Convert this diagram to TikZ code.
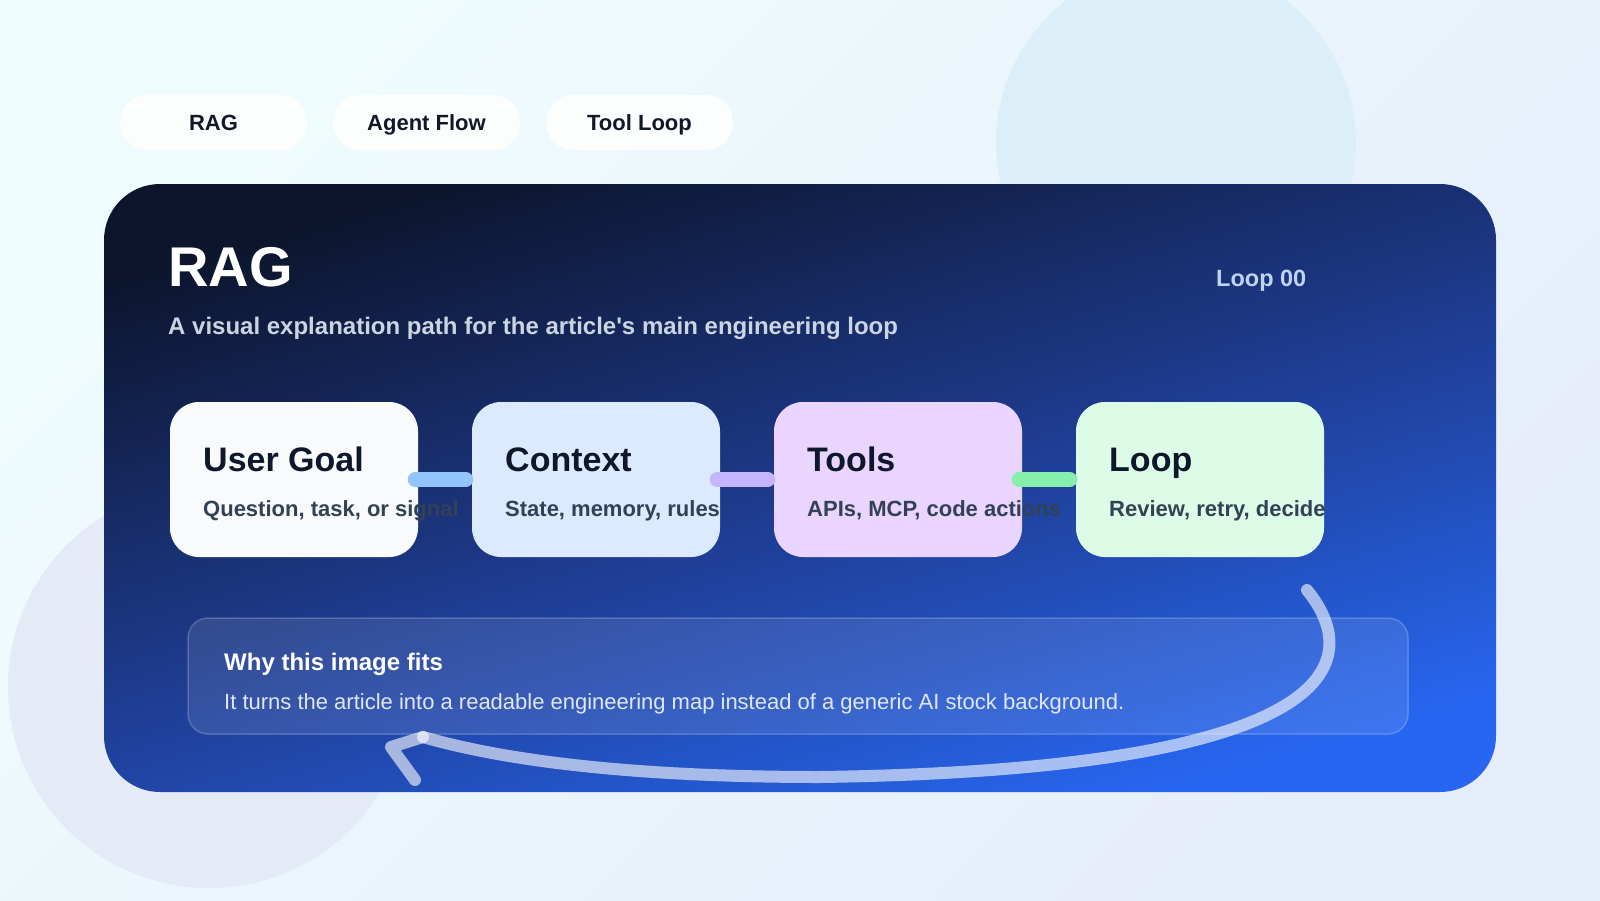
\documentclass[tikz,border=0pt]{standalone}
\usepackage{fontspec}
\setmainfont{Liberation Sans}

\definecolor{bgtop}{HTML}{EFFCFD}
\definecolor{bgbottom}{HTML}{E6EDFA}
\definecolor{bubbleblue}{HTML}{DCEEF8}
\definecolor{bubblegray}{HTML}{E4EAF6}
\definecolor{inkdark}{HTML}{111827}
\definecolor{navytop}{HTML}{0C152C}
\definecolor{navymid}{HTML}{1E3A8C}
\definecolor{bluebottom}{HTML}{2766F0}
\definecolor{subgray}{HTML}{CBD5E1}
\definecolor{looplabel}{HTML}{BFD3F5}
\definecolor{goalfill}{HTML}{F8FAFC}
\definecolor{ctxfill}{HTML}{DBEAFE}
\definecolor{toolfill}{HTML}{E9D5FF}
\definecolor{loopfill}{HTML}{DCFCE7}
\definecolor{cardink}{HTML}{0F172A}
\definecolor{subink}{HTML}{334155}
\definecolor{barblue}{HTML}{93C5FD}
\definecolor{barviolet}{HTML}{C4B5FD}
\definecolor{bargreen}{HTML}{86EFAC}
\definecolor{notetext}{HTML}{DFE7F3}

\newcommand{\pxfont}[1]{\fontsize{#1}{#1}\selectfont}

\begin{document}
\begin{tikzpicture}[x=1pt,y=-1pt,
    pill/.style={fill=white,fill opacity=0.85,text opacity=1,rounded corners=27pt,
      minimum width=187pt,minimum height=55pt,inner sep=0pt,text height=16pt,text depth=0pt,
      font=\pxfont{22}\bfseries,text=inkdark},
    card/.style={rounded corners=29pt,minimum width=248pt,minimum height=155pt,inner sep=0pt},
    cardtitle/.style={anchor=base west,inner sep=0pt,font=\pxfont{34}\bfseries,text=cardink},
    cardnote/.style={anchor=base west,inner sep=0pt,font=\pxfont{22}\bfseries,text=subink},
    label/.style={anchor=base west,inner sep=0pt},
    bar/.style={line width=15pt,line cap=round,shorten <=-3pt,shorten >=6pt},
    panel/.style={rounded corners=20pt,minimum width=1220pt,minimum height=116pt,
      fill=white,fill opacity=0.1,draw=white,draw opacity=0.2,line width=1.5pt},
    loopline/.style={draw=white,draw opacity=0.6,line width=12pt,line cap=round,line join=round}]
  \useasboundingbox (0,0) rectangle (1600,900);
  % backdrop
  \shade[top color=bgtop,bottom color=bgbottom,shading angle=45] (0,0) rectangle (1600,900);
  \fill[bubbleblue] (1176,143) circle (180pt);
  \fill[bubblegray] (209,687) circle (201pt);

  % tabs
  \node[pill] (tabrag) at (213.5,122.5) {RAG};
  \node[pill] (tabagent) at (426.5,122.5) {Agent Flow};
  \node[pill] (tabtool) at (639.5,122.5) {Tool Loop};

  % main card
  \shade[rounded corners=56pt,top color=navytop,bottom color=bluebottom,middle color=navymid,
    shading angle=16] (104,184) rectangle (1496,792);
  \node[label,font=\pxfont{56}\bfseries,text=white] (title) at (168,286) {RAG};
  \node[label,font=\pxfont{24}\bfseries,text=subgray] (subtitle) at (168,334)
    {A visual explanation path for the article\textquotesingle s main engineering loop};
  \node[label,font=\pxfont{23.5}\bfseries,text=looplabel] (looptag) at (1216,286) {Loop 00};

  % steps
  \node[card,fill=goalfill] (goal) at (294,479.5) {};
  \node[card,fill=ctxfill] (ctx) at (596,479.5) {};
  \node[card,fill=toolfill] (tool) at (898,479.5) {};
  \node[card,fill=loopfill] (loop) at (1200,479.5) {};
  \node[cardtitle] (goalt) at (203,471) {User Goal};
  \node[cardnote] (goaln) at (203,516) {Question, task, or signal};
  \node[cardtitle] (ctxt) at (505,471) {Context};
  \node[cardnote] (ctxn) at (505,516) {State, memory, rules};
  \node[cardtitle] (toolt) at (807,471) {Tools};
  \node[cardnote] (tooln) at (807,516) {APIs, MCP, code actions};
  \node[cardtitle] (loopt) at (1109,471) {Loop};
  \node[cardnote] (loopn) at (1109,516) {Review, retry, decide};
  \begin{scope}[bar]
    \draw[barblue] (goal.east) -- (ctx.west);
    \draw[barviolet] (ctx.east) -- (tool.west);
    \draw[bargreen] (tool.east) -- (loop.west);
  \end{scope}

  % note
  \node[panel] (why) at (798,676) {};
  \node[label,font=\pxfont{24}\bfseries,text=white] (whyhead) at (224,670) {Why this image fits};
  \node[label,font=\pxfont{22},text=notetext] (whytext) at (224,709)
    {It turns the article into a readable engineering map instead of a generic AI stock background.};

  % return loop
  \coordinate (backfrom) at (1307,590);
  \coordinate (backto) at (423,737);
  \coordinate (tipa) at (391,747);
  \coordinate (tipb) at (415,780);
  \draw[loopline] (backfrom) .. controls (1372,670) and (1320,770) .. (820,777)
    .. controls (640,777) and (510,762) .. (backto);
  \draw[loopline] (backto) -- (tipa) -- (tipb);
\end{tikzpicture}
\end{document}
